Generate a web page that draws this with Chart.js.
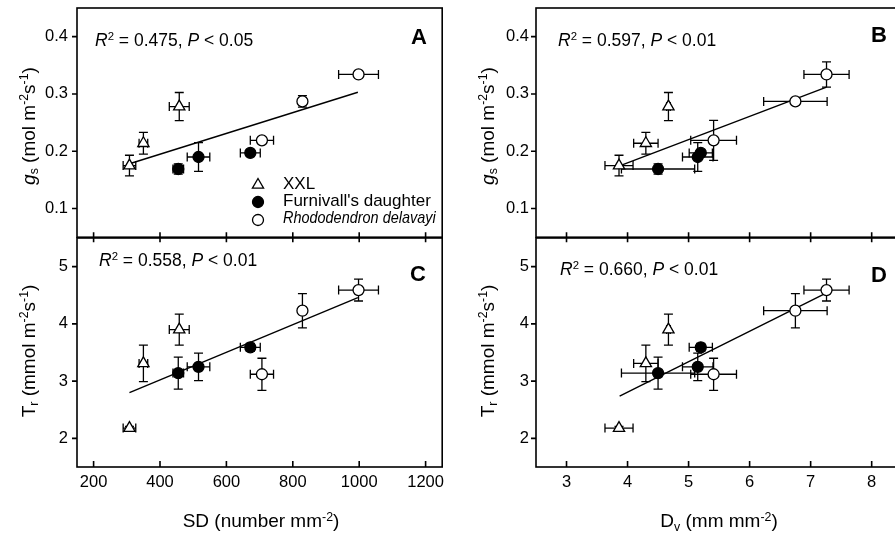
<!DOCTYPE html>
<html>
<head>
<meta charset="utf-8">
<script src="https://cdn.jsdelivr.net/npm/chart.js@4.4.1/dist/chart.umd.min.js"></script>
<style>
  body { margin: 0; background: #fff; }
  #wrap { position: relative; width: 895px; height: 535px; overflow: hidden; background: #fff;
          font-family: "Liberation Sans", Arial, sans-serif; color: #000; }
  canvas { position: absolute; }
  .t { position: absolute; white-space: nowrap; line-height: 1; }
  .t sup, .t sub { font-size: 0.65em; line-height: 0; }
  .t sup { vertical-align: 0.5em; }
  .t sub { vertical-align: -0.3em; }
  .note { font-size: 17.5px; }
  .tag { font-size: 22px; font-weight: bold; }
  .ytitle { font-size: 19px; transform: translate(-50%, -50%) rotate(-90deg); }
  .xtitle { font-size: 19px; transform: translateX(-50%); }
  .leg { font-size: 17px; }
  .narrow { transform: scaleX(0.85); transform-origin: 0 0; }
  svg { position: absolute; overflow: visible; }
</style>
</head>
<body>
<div id="wrap">
  <canvas id="cA" width="450" height="245" style="left:0;top:0"></canvas>
  <canvas id="cB" width="460" height="245" style="left:450px;top:0"></canvas>
  <canvas id="cC" width="450" height="305" style="left:0;top:230px"></canvas>
  <canvas id="cD" width="460" height="305" style="left:450px;top:230px"></canvas>

  <div class="t note" style="left:95px;top:32px"><i>R</i><sup>2</sup> = 0.475, <i>P</i> &lt; 0.05</div>
  <div class="t note" style="left:558px;top:32px"><i>R</i><sup>2</sup> = 0.597, <i>P</i> &lt; 0.01</div>
  <div class="t note" style="left:99px;top:252px"><i>R</i><sup>2</sup> = 0.558, <i>P</i> &lt; 0.01</div>
  <div class="t note" style="left:560px;top:261px"><i>R</i><sup>2</sup> = 0.660, <i>P</i> &lt; 0.01</div>

  <div class="t tag" style="left:411px;top:26px">A</div>
  <div class="t tag" style="left:871px;top:24px">B</div>
  <div class="t tag" style="left:410px;top:263px">C</div>
  <div class="t tag" style="left:871px;top:264px">D</div>

  <svg style="left:252px;top:179px" width="12" height="12"><polygon points="6,-0.5 11.6,9.2 0.4,9.2" fill="#fff" stroke="#000" stroke-width="1.3"/></svg>
  <svg style="left:252px;top:196px" width="12" height="12"><circle cx="6" cy="6" r="5.5" fill="#000" stroke="#000" stroke-width="1.3"/></svg>
  <svg style="left:252px;top:214px" width="12" height="12"><circle cx="6" cy="6" r="5.5" fill="#fff" stroke="#000" stroke-width="1.3"/></svg>
  <div class="t leg" style="left:283px;top:175px">XXL</div>
  <div class="t leg" style="left:283px;top:191.5px">Furnivall's daughter</div>
  <div class="t leg narrow" style="left:283px;top:208.5px"><i>Rhododendron delavayi</i></div>

  <div class="t ytitle" style="left:28px;top:126px"><i>g</i><sub>s</sub> (mol m<sup>-2</sup>s<sup>-1</sup>)</div>
  <div class="t ytitle" style="left:487px;top:126px"><i>g</i><sub>s</sub> (mol m<sup>-2</sup>s<sup>-1</sup>)</div>
  <div class="t ytitle" style="left:28px;top:351px">T<sub>r</sub> (mmol m<sup>-2</sup>s<sup>-1</sup>)</div>
  <div class="t ytitle" style="left:487px;top:351px">T<sub>r</sub> (mmol m<sup>-2</sup>s<sup>-1</sup>)</div>
  <div class="t xtitle" style="left:261px;top:511px">SD (number mm<sup>-2</sup>)</div>
  <div class="t xtitle" style="left:719px;top:511px">D<sub>v</sub> (mm mm<sup>-2</sup>)</div>
</div>
<script>
// tick labels
const sdTicks = [200, 400, 600, 800, 1000, 1200];
const dvTicks = [3, 4, 5, 6, 7, 8];
const gsTicks = [0.1, 0.2, 0.3, 0.4];
const trTicks = [2, 3, 4, 5];

// stomatal density (x of A, C)
const sdXXL = [308, 350, 458];
const sdFur = [455, 516, 672];
const sdRho = [707, 829, 998];
const sdErrXXL = [19, 13, 30];
const sdErrFur = [16, 34, 30];
const sdErrRho = [35, 9, 60];

// vein density (x of B, D)
const dvXXL = [3.86, 4.30, 4.67];
const dvFur = [4.50, 5.15, 5.20];
const dvRho = [5.41, 6.75, 7.26];
const dvErrXXL = [0.23, 0.2, 0.03];
const dvErrFur = [0.6, 0.25, 0.19];
const dvErrRho = [0.375, 0.52, 0.37];

// stomatal conductance
const gsXXL = [0.175, 0.214, 0.278];
const gsFur = [0.169, 0.190, 0.197];
const gsRho = [0.219, 0.287, 0.334];
const gsErrXXL = [0.018, 0.019, 0.0245];
const gsErrFur = [0.009, 0.025, 0.006];
const gsErrRhoA = [0.004, 0.01, 0.004];
const gsErrRhoB = [0.035, 0.004, 0.022];

// transpiration
const trXXL = [2.18, 3.31, 3.90];
const trFur = [3.14, 3.25, 3.59];
const trRho = [3.12, 4.23, 4.59];
const trErrXXL = [0.03, 0.32, 0.27];
const trErrFur = [0.28, 0.24, 0.07];
const trErrRho = [0.28, 0.30, 0.19];

// regression lines (end points)
const fitA = { x: [313, 996], y: [0.179, 0.303] };
const fitB = { x: [3.88, 7.26], y: [0.175, 0.312] };
const fitC = { x: [308, 996], y: [2.80, 4.46] };
const fitD = { x: [3.87, 7.26], y: [2.74, 4.54] };

Chart.defaults.font.family = "'Liberation Sans', Arial, sans-serif";
Chart.defaults.color = '#000';

function series(label, xs, ys, ex, ey, style, fill) {
  return {
    label: label,
    data: xs.map((x, i) => ({ x: x, y: ys[i] })),
    errX: ex, errY: ey,
    pointStyle: style,
    pointRadius: style === 'triangle' ? 6.5 : 5.5,
    pointBackgroundColor: fill,
    pointBorderColor: '#000',
    pointBorderWidth: 1.3,
    order: 1
  };
}

function fitLine(f) {
  return {
    label: 'fit',
    data: f.x.map((x, i) => ({ x: x, y: f.y[i] })),
    showLine: true,
    pointRadius: 0,
    borderColor: '#000',
    borderWidth: 1.4,
    order: 10
  };
}

function framePlugin(xMode) {
  const cap = 4.5;
  return {
    id: 'frame',
    beforeDatasetsDraw(chart) {
      const ctx = chart.ctx, xs = chart.scales.x, ys = chart.scales.y;
      ctx.save();
      ctx.strokeStyle = '#000';
      ctx.lineWidth = 1.3;
      chart.data.datasets.forEach(ds => {
        if (!ds.errX) return;
        ds.data.forEach((p, i) => {
          const px = xs.getPixelForValue(p.x), py = ys.getPixelForValue(p.y);
          const x0 = xs.getPixelForValue(p.x - ds.errX[i]), x1 = xs.getPixelForValue(p.x + ds.errX[i]);
          const y0 = ys.getPixelForValue(p.y - ds.errY[i]), y1 = ys.getPixelForValue(p.y + ds.errY[i]);
          ctx.beginPath();
          ctx.moveTo(x0, py); ctx.lineTo(x1, py);
          ctx.moveTo(x0, py - cap); ctx.lineTo(x0, py + cap);
          ctx.moveTo(x1, py - cap); ctx.lineTo(x1, py + cap);
          ctx.moveTo(px, y0); ctx.lineTo(px, y1);
          ctx.moveTo(px - cap, y0); ctx.lineTo(px + cap, y0);
          ctx.moveTo(px - cap, y1); ctx.lineTo(px + cap, y1);
          ctx.stroke();
        });
      });
      ctx.restore();
    },
    afterDraw(chart) {
      const ctx = chart.ctx, a = chart.chartArea, xs = chart.scales.x, ys = chart.scales.y;
      ctx.save();
      ctx.strokeStyle = '#000';
      ctx.lineWidth = 1.6;
      ctx.strokeRect(a.left, a.top, a.right - a.left, a.bottom - a.top);
      ctx.beginPath();
      ys.ticks.forEach(t => {
        const y = ys.getPixelForValue(t.value);
        ctx.moveTo(a.left - 5, y); ctx.lineTo(a.left, y);
      });
      xs.ticks.forEach(t => {
        const x = xs.getPixelForValue(t.value);
        if (xMode === 'cross') { ctx.moveTo(x, a.bottom - 5); ctx.lineTo(x, a.bottom + 5); }
        else { ctx.moveTo(x, a.bottom - 6); ctx.lineTo(x, a.bottom); }
      });
      ctx.stroke();
      ctx.restore();
    }
  };
}

function panel(id, p) {
  new Chart(document.getElementById(id), {
    type: 'scatter',
    data: { datasets: p.datasets },
    options: {
      responsive: false,
      animation: false,
      layout: { padding: { left: 0, top: 8, right: p.padRight, bottom: 0 } },
      plugins: { legend: { display: false }, tooltip: { enabled: false } },
      scales: {
        x: {
          type: 'linear', min: p.xMin, max: p.xMax,
          afterBuildTicks: s => { s.ticks = p.xTicks.map(v => ({ value: v })); },
          afterFit: s => { s.height = p.xHeight; s.paddingLeft = 0; s.paddingRight = 0; },
          grid: { display: false, drawTicks: false },
          border: { display: false },
          ticks: { display: p.xLabels, padding: 6, font: { size: 16.5 }, color: '#000',
                   callback: v => String(v) }
        },
        y: {
          type: 'linear', min: p.yMin, max: p.yMax,
          afterBuildTicks: s => { s.ticks = p.yTicks.map(v => ({ value: v })); },
          afterFit: s => { s.width = p.yWidth; s.paddingTop = 0; s.paddingBottom = 0; },
          grid: { display: false, drawTicks: false },
          border: { display: false },
          ticks: { padding: p.yPad, font: { size: 16.5 }, color: '#000',
                   callback: v => p.yDigits ? v.toFixed(p.yDigits) : String(v) }
        }
      }
    },
    plugins: [framePlugin(p.xLabels ? 'in' : 'cross')]
  });
}

panel('cA', {
  datasets: [
    series('XXL', sdXXL, gsXXL, sdErrXXL, gsErrXXL, 'triangle', '#fff'),
    series("Furnivall's daughter", sdFur, gsFur, sdErrFur, gsErrFur, 'circle', '#000'),
    series('Rhododendron delavayi', sdRho, gsRho, sdErrRho, gsErrRhoA, 'circle', '#fff'),
    fitLine(fitA)
  ],
  xMin: 150, xMax: 1250, xTicks: sdTicks, xLabels: false, xHeight: 7,
  yMin: 0.05, yMax: 0.45, yTicks: gsTicks, yDigits: 1, yWidth: 77, yPad: 9, padRight: 5
});

panel('cB', {
  datasets: [
    series('XXL', dvXXL, gsXXL, dvErrXXL, gsErrXXL, 'triangle', '#fff'),
    series("Furnivall's daughter", dvFur, gsFur, dvErrFur, gsErrFur, 'circle', '#000'),
    series('Rhododendron delavayi', dvRho, gsRho, dvErrRho, gsErrRhoB, 'circle', '#fff'),
    fitLine(fitB)
  ],
  xMin: 2.5, xMax: 8.5, xTicks: dvTicks, xLabels: false, xHeight: 7,
  yMin: 0.05, yMax: 0.45, yTicks: gsTicks, yDigits: 1, yWidth: 86, yPad: 7, padRight: 6
});

panel('cC', {
  datasets: [
    series('XXL', sdXXL, trXXL, sdErrXXL, trErrXXL, 'triangle', '#fff'),
    series("Furnivall's daughter", sdFur, trFur, sdErrFur, trErrFur, 'circle', '#000'),
    series('Rhododendron delavayi', sdRho, trRho, sdErrRho, trErrRho, 'circle', '#fff'),
    fitLine(fitC)
  ],
  xMin: 150, xMax: 1250, xTicks: sdTicks, xLabels: true, xHeight: 68,
  yMin: 1.5, yMax: 5.5, yTicks: trTicks, yDigits: 0, yWidth: 77, yPad: 9, padRight: 5
});

panel('cD', {
  datasets: [
    series('XXL', dvXXL, trXXL, dvErrXXL, trErrXXL, 'triangle', '#fff'),
    series("Furnivall's daughter", dvFur, trFur, dvErrFur, trErrFur, 'circle', '#000'),
    series('Rhododendron delavayi', dvRho, trRho, dvErrRho, trErrRho, 'circle', '#fff'),
    fitLine(fitD)
  ],
  xMin: 2.5, xMax: 8.5, xTicks: dvTicks, xLabels: true, xHeight: 68,
  yMin: 1.5, yMax: 5.5, yTicks: trTicks, yDigits: 0, yWidth: 86, yPad: 7, padRight: 6
});
</script>
</body>
</html>
